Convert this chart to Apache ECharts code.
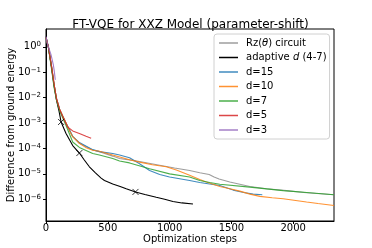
<!DOCTYPE html>
<html>
<head>
<meta charset="utf-8">
<script src="https://cdn.jsdelivr.net/npm/echarts@6/dist/echarts.min.js"></script>
<style>html,body{margin:0;padding:0;background:#fff}#c{width:372px;height:248px}</style>
</head>
<body>
<div id="c"></div>
<script>
// ---- data ----
const xTicks = [0, 500, 1000, 1500, 2000];
const yTicks = [1, 1e-1, 1e-2, 1e-3, 1e-4, 1e-5, 1e-6];
const groundLine = 1.5e-6;

const rzSteps = [0,20,45,65,85,110,140,162,216,270,378,432,540,595,700,800,919,1040,1162,1244,1320,1360,1400,1487,1649,1784,1946,2108,2330];
const rzErr   = [2.3,0.95,0.16,0.033,0.009,0.0034,0.0016,1.0e-3,2.9e-4,1.6e-4,8.7e-5,7.5e-5,5.0e-5,4.0e-5,3.4e-5,2.8e-5,2.2e-5,1.7e-5,1.35e-5,1.1e-5,9.5e-6,7.5e-6,6.3e-6,4.8e-6,3.2e-6,2.6e-6,2.2e-6,1.8e-6,1.5e-6];

const adSteps = [0,20,45,65,85,105,122,162,216,270,310,351,400,446,473,540,600,649,724,800,892,960,1027,1100,1189];
const adErr   = [2.5,0.9,0.15,0.03,0.008,0.003,1.1e-3,3.9e-4,1.3e-4,6.6e-5,3.5e-5,1.9e-5,1.1e-5,6.8e-6,5.5e-6,4.0e-6,3.2e-6,2.6e-6,1.95e-6,1.55e-6,1.2e-6,1.0e-6,8.2e-7,7.2e-7,6.5e-7];
const adMarkSteps = [122, 270, 724];
const adMarkErr   = [1.1e-3, 6.6e-5, 1.95e-6];

const d15Steps = [0,20,45,65,85,110,140,162,216,270,378,432,540,595,676,757,838,920,1000,1162,1244,1324,1406,1514,1600,1676,1750];
const d15Err   = [2.3,0.95,0.17,0.035,0.009,0.0035,0.0017,1.0e-3,3.0e-4,1.7e-4,9e-5,7.5e-5,6.3e-5,5.5e-5,4.3e-5,2.5e-5,1.35e-5,9.5e-6,7.5e-6,5.5e-6,4.6e-6,4.0e-6,3.5e-6,2.3e-6,1.85e-6,1.6e-6,1.5e-6];

const d10Steps = [0,20,45,65,85,110,140,162,190,216,270,320,378,432,540,676,757,860,973,1060,1162,1244,1297,1406,1487,1568,1650,1730,1830,1919,2020,2108,2200,2330];
const d10Err   = [2.3,0.95,0.17,0.035,0.009,0.0035,0.0017,1.0e-3,5e-4,2.9e-4,1.6e-4,1.1e-4,8.5e-5,7.8e-5,5.5e-5,3.6e-5,2.9e-5,2.3e-5,1.9e-5,1.4e-5,8.8e-6,6.0e-6,4.8e-6,3.2e-6,2.6e-6,2.1e-6,1.6e-6,1.3e-6,1.15e-6,1.05e-6,9e-7,7.8e-7,6.8e-7,5.7e-7];

const d7Steps = [0,20,45,65,85,110,140,162,216,270,378,432,540,595,676,838,1000,1162,1244,1324,1406,1649,1919,2135,2330];
const d7Err   = [2.3,0.9,0.13,0.025,0.008,0.003,0.0014,8e-4,1.8e-4,1.1e-4,6.3e-5,5.5e-5,4.0e-5,3.2e-5,2.7e-5,1.6e-5,1.0e-5,7.5e-6,5.5e-6,4.6e-6,3.9e-6,3.0e-6,2.2e-6,1.8e-6,1.5e-6];

const d5Steps = [0,20,45,65,85,110,140,175,216,270,324,365];
const d5Err   = [2.3,0.95,0.17,0.035,0.009,0.0035,0.0016,7e-4,4.9e-4,3.9e-4,3.0e-4,2.5e-4];

const d3Steps = [0,13,40,59,67,75];
const d3Err   = [2.5,1.2,0.5,0.2,0.11,0.05];

const names = ['Rz(θ) circuit', 'adaptive d (4-7)', 'd=15', 'd=10', 'd=7', 'd=5', 'd=3'];
const colors = ['#8c8c8c', '#000000', '#1f77b4', '#ff7f0e', '#2ca02c', '#d62728', '#9467bd'];
// ---- end data ----

const zip = (a, b) => a.map((v, i) => [v, b[i]]);
const seriesData = [
  zip(rzSteps, rzErr), zip(adSteps, adErr), zip(d15Steps, d15Err),
  zip(d10Steps, d10Err), zip(d7Steps, d7Err), zip(d5Steps, d5Err), zip(d3Steps, d3Err)
];

const FONT = 'DejaVu Sans';
const series = seriesData.map((d, i) => ({
  name: names[i], type: 'line', data: d, showSymbol: false, symbol: 'none',
  lineStyle: { width: 1.1, color: colors[i], opacity: i === 1 ? 1 : 0.85 },
  itemStyle: { color: colors[i] },
  z: 2 + i
}));
series.push({
  name: 'marks', type: 'scatter', data: zip(adMarkSteps, adMarkErr),
  symbol: 'path://M0,0L10,10M10,0L0,10', symbolSize: 6,
  itemStyle: { color: 'none', borderColor: '#000', borderWidth: 1 }, z: 20
});
series.push({
  name: 'ground', type: 'line', data: [], z: 1,
  markLine: {
    silent: true, symbol: 'none', label: { show: false },
    lineStyle: { type: [3.7, 1.6], color: '#555', width: 0.9 },
    data: [{ yAxis: groundLine }]
  }
});

const chart = echarts.init(document.getElementById('c'), null, { renderer: 'canvas' });
chart.setOption({
  animation: false,
  backgroundColor: '#fff',
  title: {
    text: 'FT-VQE for XXZ Model (parameter-shift)',
    left: 190.5, top: 18.5, padding: 0, textAlign: 'center',
    textStyle: { fontFamily: FONT, fontSize: 12, fontWeight: 'normal', color: '#000' }
  },
  grid: { left: 46, right: 38, top: 29, bottom: 27, containLabel: false, outerBoundsMode: 'none',
    show: true, borderColor: '#000', borderWidth: 1, backgroundColor: 'transparent' },
  legend: {
    orient: 'vertical', left: 214, top: 34,
    data: names.map((n, i) => ({ name: n, itemStyle: { color: colors[i], opacity: i === 1 ? 1 : 0.85 } })),
    icon: 'rect', itemWidth: 19, itemHeight: 1.5, itemGap: 2.5,
    padding: [3, 3, 3, 5],
    backgroundColor: '#fff', borderColor: '#d0d0d0', borderWidth: 1, borderRadius: 3,
    formatter: n => {
      if (n === names[0]) return '{n|Rz(}{i|θ}{n|) circuit}';
      if (n === names[1]) return '{n|adaptive }{i|d}{n| (4-7)}';
      return '{n|' + n + '}';
    },
    textStyle: {
      fontFamily: FONT, fontSize: 10, color: '#000', lineHeight: 12, padding: [0, 0, 0, 3],
      rich: {
        n: { fontFamily: FONT, fontSize: 10, color: '#000', lineHeight: 12 },
        i: { fontFamily: FONT, fontSize: 10, color: '#000', lineHeight: 12, fontStyle: 'italic' }
      }
    }
  },
  xAxis: {
    type: 'value', min: 0, max: 2330,
    name: 'Optimization steps', nameLocation: 'middle', nameGap: 13, nameMoveOverlap: false,
    nameTextStyle: { fontFamily: FONT, fontSize: 10, color: '#000' },
    axisLine: { show: true, onZero: false, lineStyle: { color: '#000', width: 1 } },
    axisTick: { show: true, length: 3, customValues: xTicks, lineStyle: { color: '#000' } },
    axisLabel: { customValues: xTicks, margin: 2, fontFamily: FONT, fontSize: 10, color: '#000',
      formatter: v => String(v) },
    splitLine: { show: false }
  },
  yAxis: {
    type: 'log', logBase: 10, min: 1.4e-7, max: 5,
    name: 'Difference from ground energy', nameLocation: 'middle', nameGap: 30, nameMoveOverlap: false,
    nameTextStyle: { fontFamily: FONT, fontSize: 10, color: '#000' },
    axisLine: { show: true, lineStyle: { color: '#000', width: 1 } },
    axisTick: { show: true, length: 3, customValues: yTicks, lineStyle: { color: '#000' } },
    axisLabel: {
      customValues: yTicks, margin: 5, fontFamily: FONT, fontSize: 10, color: '#000',
      formatter: v => {
        const e = Math.round(Math.log10(v));
        return '{b|10}{s|' + String(e).replace('-', '\u2212') + '}';
      },
      rich: {
        b: { fontFamily: FONT, fontSize: 10, color: '#000', lineHeight: 12 },
        s: { fontFamily: FONT, fontSize: 7, color: '#000', verticalAlign: 'top', padding: [0, 0, 5, 0] }
      }
    },
    splitLine: { show: false }
  },
  series
});
</script>
</body>
</html>
